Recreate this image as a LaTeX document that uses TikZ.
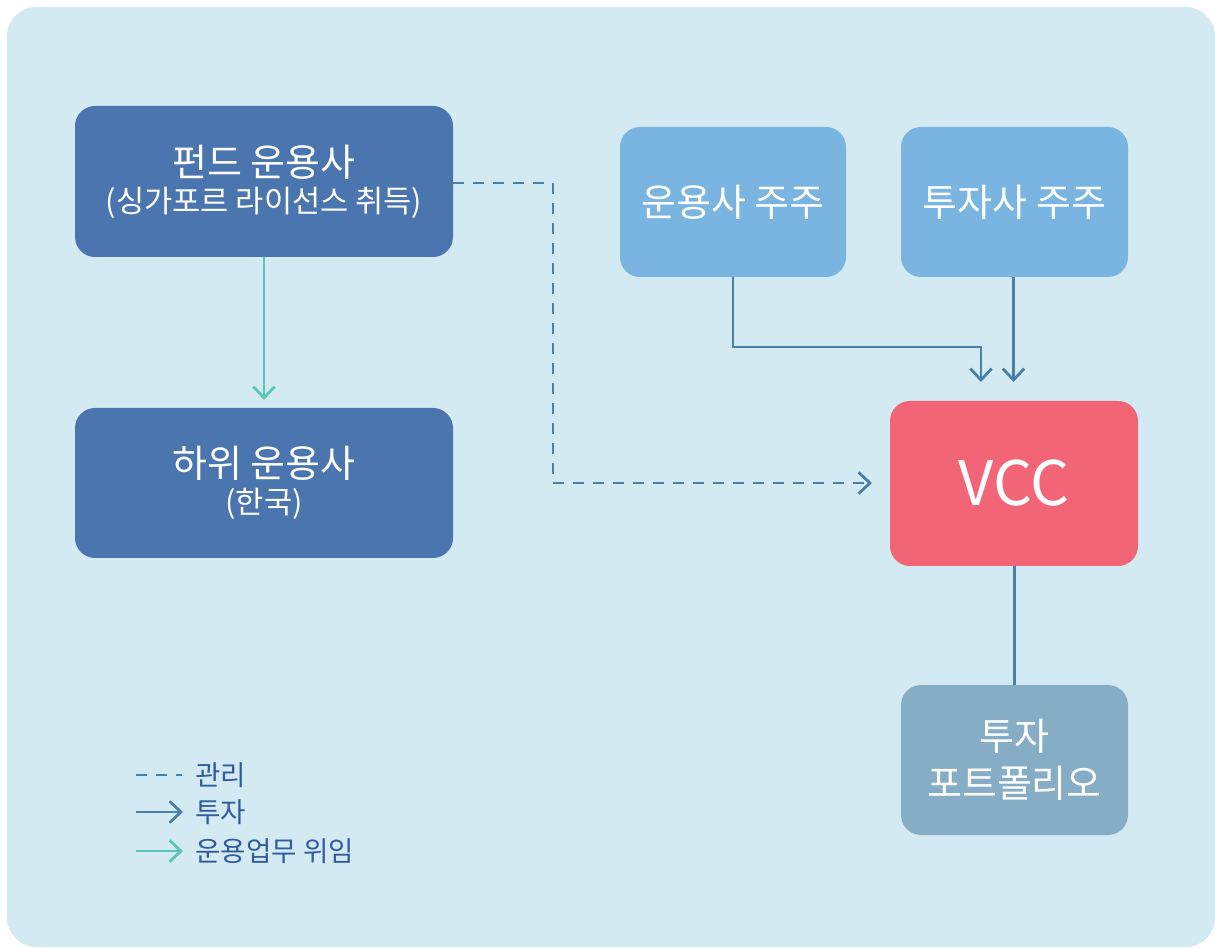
\documentclass[tikz,border=0pt]{standalone}
\usepackage{fontspec}
\setmainfont{Noto Sans CJK KR}
\usetikzlibrary{arrows.meta}
\definecolor{bgc}{HTML}{D3EAF2}
\definecolor{darkbox}{HTML}{4A75AF}
\definecolor{lightbox}{HTML}{7AB5E1}
\definecolor{vccc}{HTML}{F26577}
\definecolor{portc}{HTML}{85AEC6}
\definecolor{linec}{HTML}{4A80A8}
\definecolor{tealc}{HTML}{5CC4B8}
\definecolor{legtext}{HTML}{2E5C9E}
\begin{document}
\begin{tikzpicture}[x=0.75pt,y=-0.75pt,
  box/.style={rectangle,rounded corners=15pt,text=white,align=center,inner sep=0pt},
  bigf/.style={font=\fontsize{28.5}{34}\selectfont},
  conn/.style={draw=linec,line width=2.1pt},
  tip/.style={-{Straight Barb[length=8.5pt,width=16pt,line width=2.1pt]}},
  dashline/.style={conn,dash pattern=on 8pt off 7pt},
  legtxt/.style={anchor=west,text=legtext,inner sep=0pt,font=\fontsize{20.7}{24}\selectfont}]
\useasboundingbox (0,0) rectangle (1215,948);
\fill[bgc,rounded corners=22pt] (7,7) rectangle (1215,947);

\node[box,fill=darkbox,minimum width=378*0.75pt,minimum height=151*0.75pt] (fund) at (264,181.5)
  {{\fontsize{28.5}{34}\selectfont 펀드 운용사}\\[5pt]{\fontsize{23}{31}\selectfont (싱가포르 라이선스 취득)}};
\node[box,fill=darkbox,minimum width=378*0.75pt,minimum height=150*0.75pt] (sub) at (264,483)
  {{\fontsize{28.5}{34}\selectfont 하위 운용사}\\[5pt]{\fontsize{23}{31}\selectfont (한국)}};
\node[box,fill=lightbox,bigf,minimum width=226*0.75pt,minimum height=150*0.75pt] (opsh) at (733,202) {운용사 주주};
\node[box,fill=lightbox,bigf,minimum width=227*0.75pt,minimum height=150*0.75pt] (invsh) at (1014.5,202) {투자사 주주};
\node[box,fill=vccc,font=\fontsize{46}{50}\selectfont,minimum width=248*0.75pt,minimum height=165*0.75pt] (vcc) at (1014,483.5) {VCC};
\node[box,fill=portc,font=\fontsize{28.5}{34}\selectfont,minimum width=227*0.75pt,minimum height=150*0.75pt] (port) at (1014.5,760) {투자\\[1pt]포트폴리오};

\coordinate (tealend) at (264,400);
\coordinate (dashcorner) at (553,183);
\coordinate (dashend) at (872,483);
\coordinate (opbend) at (733,347);
\coordinate (opend) at (981,382);
\coordinate (invend) at (1013.5,382);

\draw[draw=tealc,line width=2.1pt,tip] (fund.south) -- (tealend);
\draw[dashline,tip] (fund.east |- dashcorner) -- (dashcorner) |- (dashend);
\draw[conn,tip] (opsh.south) -- (opbend) -| (opend);
\draw[conn,tip] (invsh.south -| invend) -- (invend);
\draw[conn] (vcc.south -| port.north) -- (port.north);

% legend
\coordinate (l1a) at (136,775); \coordinate (l1b) at (182,775);
\coordinate (l2a) at (136,812); \coordinate (l2b) at (183,812);
\coordinate (l3a) at (136,851); \coordinate (l3b) at (183,851);
\draw[dashline] (l1a) -- (l1b);
\draw[conn,tip] (l2a) -- (l2b);
\draw[draw=tealc,line width=2.1pt,tip] (l3a) -- (l3b);
\node[legtxt] (t1) at (195,775) {관리};
\node[legtxt] (t2) at (195,812) {투자};
\node[legtxt] (t3) at (195,851) {운용업무 위임};
\end{tikzpicture}
\end{document}
